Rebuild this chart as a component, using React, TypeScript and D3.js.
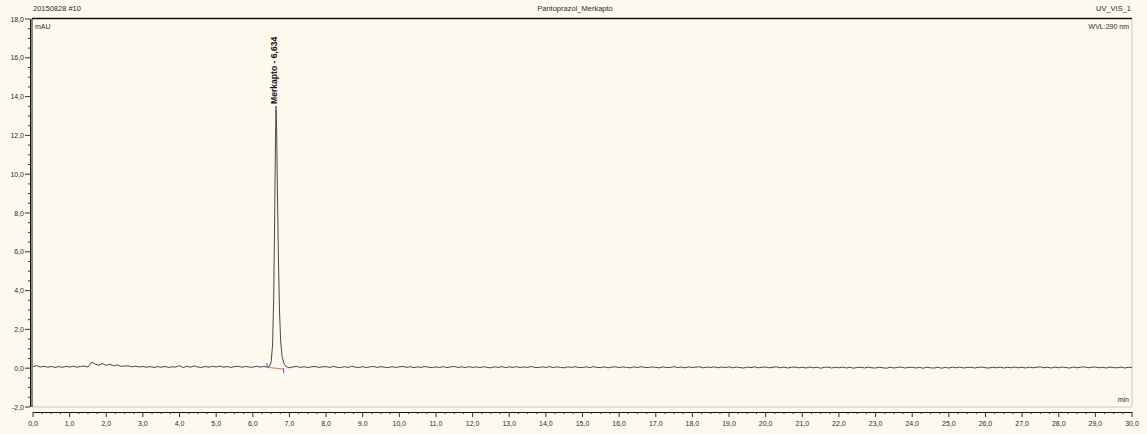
import React from "react";
import * as d3 from "d3";

const W = 1147;
const H = 434;

// header texts
const headerLeft = "20150828 #10";
const headerCenter = "Pantoprazol_Merkapto";
const headerRight = "UV_VIS_1";
const yUnit = "mAU";
const wavelength = "WVL:290 nm";
const xUnit = "min";

// axis ticks
const yTicks = [-2, 0, 2, 4, 6, 8, 10, 12, 14, 16, 18];
const xTicks = d3.range(0, 31, 1);

// baseline signal, one value every 0.1 min from 0.0 to 30.0 (mAU)
const baseline = [
  0.08, 0.13, 0.06, 0.1, 0.05, 0.09, 0.04, 0.08, 0.05, 0.09,
  0.06, 0.1, 0.05, 0.09, 0.11, 0.06, 0.31, 0.21, 0.15, 0.24,
  0.14, 0.21, 0.12, 0.17, 0.1, 0.11, 0.12, 0.07, 0.1, 0.06,
  0.09, 0.05, 0.08, 0.04, 0.08, 0.05, 0.09, 0.04, 0.07, 0.06,
  0.13, 0.03, 0.1, 0.05, 0.12, 0.06, 0.04, 0.09, 0.05, 0.1,
  0.06, 0.11, 0.05, 0.09, 0.04, 0.08, 0.1, 0.05, 0.09, 0.06,
  0.05, 0.1, 0.06, 0.09, 0.05, 0.07, 0.06, 0.05, 0.04, 0.05,
  0.02, 0.07, 0.09, 0.04, 0.08, 0.03, 0.07, 0.09, 0.04, 0.07,
  0.08, 0.04, 0.09, 0.05, 0.03, 0.08, 0.04, 0.1, 0.05, 0.04,
  0.08, 0.03, 0.07, 0.09, 0.04, 0.08, 0.05, 0.03, 0.08, 0.04,
  0.07, 0.09, 0.04, 0.08, 0.03, 0.07, 0.04, 0.09, 0.05, 0.03,
  0.07, 0.04, 0.08, 0.03, 0.07, 0.09, 0.04, 0.07, 0.03, 0.08,
  0.04, 0.07, 0.03, 0.08, 0.04, 0.02, 0.07, 0.04, 0.08, 0.03,
  0.07, 0.04, 0.08, 0.03, 0.07, 0.04, 0.09, 0.04, 0.03, 0.07,
  0.04, 0.08, 0.03, 0.07, 0.04, 0.02, 0.07, 0.04, 0.08, 0.03,
  0.04, 0.07, 0.03, 0.08, 0.04, 0.03, 0.07, 0.02, 0.06, 0.07,
  0.03, 0.07, 0.04, 0.02, 0.07, 0.03, 0.08, 0.04, 0.03, 0.07,
  0.04, 0.02, 0.07, 0.03, 0.04, 0.08, 0.03, 0.06, 0.02, 0.07,
  0.03, 0.06, 0.07, 0.02, 0.06, 0.03, 0.07, 0.02, 0.06, 0.03,
  0.07, 0.02, 0.06, 0.03, 0.01, 0.06, 0.03, 0.07, 0.02, 0.05,
  0.06, 0.02, 0.05, 0.07, 0.02, 0.06, 0.01, 0.05, 0.06, 0.02,
  0.05, 0.01, 0.06, 0.02, 0.05, 0.0, 0.04, 0.06, 0.01, 0.05,
  0.02, 0.06, 0.01, 0.05, 0.0, 0.04, 0.05, 0.01, 0.06, 0.02,
  0.01, 0.05, 0.02, 0.0, 0.05, 0.01, 0.04, 0.06, 0.01, 0.04,
  0.05, 0.01, 0.04, 0.0, 0.05, 0.02, 0.01, 0.05, 0.0, 0.04,
  0.01, 0.05, 0.02, 0.06, 0.01, 0.04, 0.05, 0.01, 0.04, 0.06,
  0.02, 0.01, 0.05, 0.02, 0.06, 0.01, 0.05, 0.02, 0.06, 0.02,
  0.05, 0.01, 0.06, 0.02, 0.05, 0.07, 0.02, 0.05, 0.01, 0.06,
  0.02, 0.06, 0.03, 0.01, 0.06, 0.02, 0.05, 0.07, 0.02, 0.05,
  0.06, 0.02, 0.05, 0.01, 0.06, 0.03, 0.02, 0.06, 0.01, 0.05,
  0.03,
];

// the peak, read at finer resolution
const peakTimes = [6.4, 6.45, 6.5, 6.54, 6.57, 6.6, 6.62, 6.634, 6.65, 6.67, 6.7, 6.73, 6.76, 6.8, 6.85, 6.9, 6.95];
const peakValues = [0.06, 0.09, 0.3, 1.2, 3.6, 8.2, 11.9, 13.3, 12.4, 9.4, 5.6, 2.9, 1.4, 0.6, 0.25, 0.1, 0.05];

// peak annotation
const peakName = "Merkapto - 6,634";
const peakRT = 6.634;
const peakHeight = 13.3;
const integStart = [6.39, 0.1];
const integEnd = [6.84, -0.05];

const fmt = (v: number) => v.toFixed(1).replace(".", ",");

export default function App() {
  const plotL = 32;
  const plotR = 1132;
  const plotT = 18.5;
  const plotB = 407;
  const yAxisX = 30;
  const xAxisY = 412;

  const x = d3.scaleLinear().domain([0, 30]).range([33, 1132]);
  const y = d3.scaleLinear().domain([-2, 18]).range([407, 19]);

  const baseTimes = baseline.map((_, i) => i / 10);
  const pts: [number, number][] = [];
  baseTimes.forEach((t, i) => {
    if (t < peakTimes[0] || t > peakTimes[peakTimes.length - 1]) pts.push([t, baseline[i]]);
  });
  peakTimes.forEach((t, i) => pts.push([t, peakValues[i]]));
  pts.sort((a, b) => a[0] - b[0]);

  const line = d3
    .line<[number, number]>()
    .x((d) => x(d[0]))
    .y((d) => y(d[1]));

  const yMinor = d3.range(-2, 18.01, 0.5).filter((v) => Math.abs(v % 2) > 1e-6);
  const xMinor = d3.range(0, 30.01, 0.25).filter((v) => Math.abs(v % 1) > 1e-6);

  const font = "'Liberation Sans', Arial, sans-serif";
  const txt = "#2b2b2b";
  const px = x(peakRT) + 0.5;

  React.useEffect(() => {
    document.body.style.margin = "0";
    document.body.style.background = "#fdf9ef";
  }, []);

  return (
    <svg width={W} height={H} style={{ display: "block", background: "#fdf9ef" }} fontFamily={font}>
      <rect x={0} y={0} width={W} height={H} fill="#fdf9ef" />
      {/* header */}
      <text x={33} y={11} fontSize={7.5} fill={txt}>{headerLeft}</text>
      <text x={575} y={11} fontSize={7.5} fill={txt} textAnchor="middle">{headerCenter}</text>
      <text x={1131} y={11} fontSize={7.5} fill={txt} textAnchor="end">{headerRight}</text>

      {/* plot frame */}
      <line x1={plotR} x2={plotR} y1={plotT} y2={plotB} stroke="#c8c8c8" strokeWidth={1} />
      <line x1={plotL} x2={plotR} y1={plotB} y2={plotB} stroke="#c8c8c8" strokeWidth={1} />
      <line x1={plotL} x2={plotL} y1={plotT} y2={plotB} stroke="#111" strokeWidth={1} />
      <line x1={plotL} x2={plotR} y1={plotT} y2={plotT} stroke="#111" strokeWidth={1.5} />

      <text x={35} y={29} fontSize={7} fill={txt}>{yUnit}</text>
      <text x={1129} y={29} fontSize={7} fill={txt} textAnchor="end">{wavelength}</text>
      <text x={1129} y={402} fontSize={7} fill={txt} textAnchor="end">{xUnit}</text>

      {/* y axis */}
      <line x1={yAxisX + 0.5} x2={yAxisX + 0.5} y1={y(18)} y2={y(-2)} stroke="#111" strokeWidth={1} />
      {yMinor.map((v) => (
        <line key={"ym" + v} x1={yAxisX - 2} x2={yAxisX} y1={y(v)} y2={y(v)} stroke="#333" strokeWidth={1} />
      ))}
      {yTicks.map((v) => (
        <g key={"yt" + v}>
          <line x1={yAxisX - 5} x2={yAxisX} y1={y(v)} y2={y(v)} stroke="#333" strokeWidth={1} />
          <text x={yAxisX - 6} y={y(v) + 2.5} fontSize={7} fill={txt} textAnchor="end">{fmt(v)}</text>
        </g>
      ))}

      {/* x axis */}
      <line x1={x(0)} x2={x(30)} y1={xAxisY + 0.5} y2={xAxisY + 0.5} stroke="#111" strokeWidth={1} />
      {xMinor.map((v) => (
        <line key={"xm" + v} x1={x(v)} x2={x(v)} y1={xAxisY} y2={xAxisY + 2} stroke="#333" strokeWidth={1} />
      ))}
      {xTicks.map((v) => (
        <g key={"xt" + v}>
          <line x1={x(v)} x2={x(v)} y1={xAxisY} y2={xAxisY + 5} stroke="#333" strokeWidth={1} />
          <text x={x(v)} y={xAxisY + 14} fontSize={7} fill={txt} textAnchor="middle">{fmt(v)}</text>
        </g>
      ))}

      {/* signal */}
      <path d={line(pts) || ""} fill="none" stroke="#333" strokeWidth={0.9} />

      {/* integration baseline & markers */}
      <line x1={x(integStart[0])} x2={x(integEnd[0])} y1={y(integStart[1]) + 1} y2={y(integEnd[1])} stroke="#f07070" strokeWidth={1.2} />
      <line x1={x(integStart[0])} x2={x(integStart[0])} y1={y(integStart[1]) - 3} y2={y(integStart[1]) + 1.5} stroke="#6a6af0" strokeWidth={1.2} />
      <line x1={x(integEnd[0])} x2={x(integEnd[0])} y1={y(integEnd[1]) - 1} y2={y(integEnd[1]) + 4} stroke="#6a6af0" strokeWidth={1.2} />

      {/* peak label */}
      <line x1={x(peakRT)} x2={x(peakRT)} y1={106} y2={y(peakHeight)} stroke="#111" strokeWidth={1} />
      <text
        transform={`translate(${px},104) rotate(-90)`}
        fontSize={8.6}
        fontWeight="bold"
        fill="#111"
      >
        {peakName}
      </text>
    </svg>
  );
}
